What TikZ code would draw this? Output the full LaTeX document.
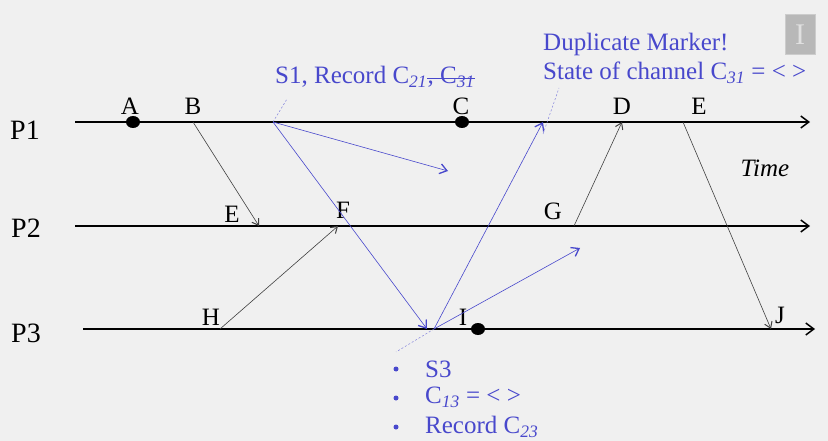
\documentclass[tikz,border=0pt]{standalone}
\usepackage{fontspec}
\setmainfont{Liberation Serif}
\usetikzlibrary{arrows.meta,shapes.geometric}
\definecolor{bg}{RGB}{240,240,240}
\definecolor{markblue}{RGB}{72,72,204}
\newcommand{\sub}[1]{\textsubscript{\itshape #1}}

\begin{document}
\begin{tikzpicture}[x=1pt, y=-1pt,
  proc/.style={line width=1.5pt, -{Straight Barb[length=8pt, width=12pt, line width=1.5pt]}},
  plabel/.style={font=\fontsize{28}{30}\selectfont, inner sep=0pt},
  evt/.style={font=\fontsize{25}{28}\selectfont, inner sep=0pt},
  dot/.style={ellipse, fill=black, minimum width=14pt, minimum height=12pt, inner sep=0pt},
  msg/.style={draw=black!75, line width=0.6pt, -{Straight Barb[length=6pt, width=8pt, line width=1pt]}},
  mrk/.style={draw=markblue, line width=0.6pt, -{Straight Barb[length=7pt, width=10pt, line width=1.3pt]}},
  hint/.style={draw=markblue!70, dash pattern=on 2pt off 2pt, line width=0.5pt},
  note/.style={text=markblue, font=\fontsize{25}{30}\selectfont, inner sep=0pt, anchor=west},
  bul/.style={circle, fill=markblue, minimum size=5pt, inner sep=0pt}
]
\fill[bg] (0,0) rectangle (828,441);
\useasboundingbox (0,0) rectangle (828,441);

\node[fill=black!28, draw=black!20, line width=1pt, minimum width=30pt, minimum height=40pt, inner sep=0pt,
  text=black!12, font=\fontsize{30}{30}\selectfont] (logo) at (800,35) {I};

\coordinate (p1s) at (75,122);  \coordinate (p1e) at (810,122);
\coordinate (p2s) at (75,226);  \coordinate (p2e) at (810,226);
\coordinate (p3s) at (83,329);  \coordinate (p3e) at (815,329);

\node[plabel] (l1) at (25,130) {P1};
\node[plabel] (l2) at (26,228) {P2};
\node[plabel] (l3) at (26,333) {P3};

\draw[proc] (p1s) -- (p1e);
\draw[proc] (p2s) -- (p2e);
\draw[proc] (p3s) -- (p3e);

\coordinate (a) at (133,122);  \coordinate (b) at (193,122);
\coordinate (s1) at (273,122); \coordinate (c) at (462,122);
\coordinate (r1) at (543,122); \coordinate (d) at (622,122);
\coordinate (e1) at (683,122);
\coordinate (e2) at (259,226); \coordinate (f) at (338,226);
\coordinate (g) at (574,226);
\coordinate (h) at (220,329);  \coordinate (m3) at (427,329);
\coordinate (s3) at (434,329); \coordinate (i) at (478,329);
\coordinate (j) at (771,329);
\coordinate (s1x) at (448,171); \coordinate (s3x) at (580,248);

\node[dot] (da) at (a) {};
\node[dot] (dc) at (c) {};
\node[dot] (di) at (i) {};

\node[evt] (ta) at (130,106) {A};
\node[evt] (tb) at (193,106) {B};
\node[evt] (tc) at (461,106) {C};
\node[evt] (td) at (622,106) {D};
\node[evt] (te1) at (699,106) {E};
\node[evt] (te2) at (232,214) {E};
\node[evt] (tf) at (343,210) {F};
\node[evt] (tg) at (553,211) {G};
\node[evt] (th) at (211,317) {H};
\node[evt] (ti) at (463,317) {I};
\node[evt] (tj) at (780,315) {J};
\node[evt, font=\fontsize{25}{28}\selectfont\itshape] (time) at (765,168) {Time};

\draw[msg] (b) -- (e2);
\draw[msg] (h) -- (f);
\draw[msg] (g) -- (d);
\draw[msg] (e1) -- (j);

\draw[mrk] (s1) -- (s1x);
\draw[mrk] (s1) -- (m3);
\draw[mrk] (s3) -- (r1);
\draw[mrk] (s3) -- (s3x);

\node[note] (n1) at (275,77) {S1, Record C\sub{21}};
\node[note, anchor=base west] (n1b) at (n1.base east) {, C\sub{31}};
\draw[markblue, line width=0.7pt] ([yshift=-1pt]n1b.west) -- ([yshift=-1pt]n1b.east);
\node[note] (n2) at (543,44) {Duplicate Marker!};
\node[note] (n3) at (543,73) {State of channel C\sub{31} = < >};

\node[bul] (b1) at (396,369) {};
\node[bul] (b2) at (396,398) {};
\node[bul] (b3) at (396,427) {};
\node[note] (n4) at (425,369) {S3};
\node[note] (n5) at (425,397) {C\sub{13} = < >};
\node[note] (n6) at (425,427) {Record C\sub{23}};

\draw[hint] (s1) -- (287,99);
\draw[hint] ([yshift=-12pt]r1) -- (559,88);
\draw[hint] (s3) -- (396,352);
\end{tikzpicture}
\end{document}
